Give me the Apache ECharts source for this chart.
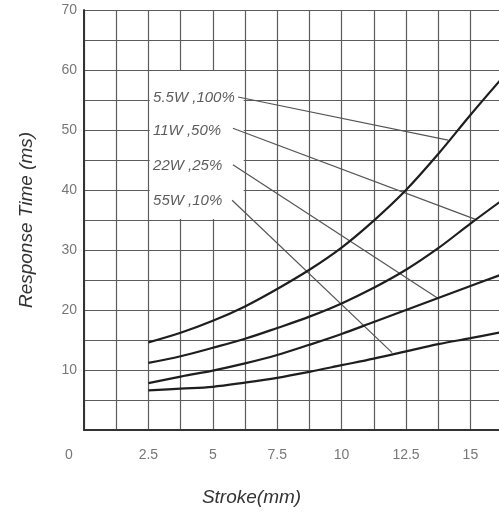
<!DOCTYPE html>
<html>
<head>
<meta charset="utf-8">
<script src="https://cdn.jsdelivr.net/npm/echarts@6/dist/echarts.min.js"></script>
<style>
html,body{margin:0;padding:0;background:#fff;}
#c{width:499px;height:515px;}
</style>
</head>
<body>
<div id="c"></div>
<script>
// Stroke (mm) sample positions
const strokes = [2.5, 3.75, 5, 6.25, 7.5, 8.75, 10, 11.25, 12.5, 13.75, 15, 16.2];
// Response time (ms) per duty setting
const w5_5 = [14.6, 16.2, 18.2, 20.6, 23.5, 26.7, 30.4, 34.9, 40.0, 46.0, 52.5, 58.5];
const w11  = [11.2, 12.3, 13.7, 15.2, 17.0, 18.9, 21.1, 23.7, 26.7, 30.3, 34.4, 38.2];
const w22  = [7.8, 8.9, 9.9, 11.1, 12.5, 14.2, 16.0, 18.0, 20.0, 22.0, 24.0, 25.9];
const w55  = [6.6, 6.9, 7.2, 7.9, 8.7, 9.7, 10.8, 11.9, 13.1, 14.3, 15.3, 16.3];
const curveNames = ['5.5W ,100%', '11W ,50%', '22W ,25%', '55W ,10%'];
// Label anchors (stroke, ms)
const labelX = [2.68, 2.68, 2.68, 2.68];
const labelY = [55.4, 49.9, 44.0, 38.2];
// Leader lines: start and end (stroke, ms)
const leaderStart = [[5.98, 55.5], [5.78, 50.3], [5.78, 44.2], [5.75, 38.3]];
const leaderEnd = [[14.13, 48.3], [15.2, 35.1], [13.75, 21.9], [11.96, 12.9]];
// Blank label panel extent
const panel = [[2.55, 35.15], [6.2, 59.85]];

const xTicks = [0, 2.5, 5, 7.5, 10, 12.5, 15];
const yTicks = [10, 20, 30, 40, 50, 60, 70];

const chart = echarts.init(document.getElementById('c'));
const gridLine = {color: '#5c5c5c', width: 1.2};
const curveData = [w5_5, w11, w22, w55];
const FONT = 'Liberation Sans, Arial, sans-serif';

const series = curveData.map((arr, i) => ({
  type: 'line', name: curveNames[i], smooth: 0.35, symbol: 'none',
  data: strokes.map((s, k) => [s, arr[k]]),
  lineStyle: {color: '#1e1e1e', width: 2.2}, z: 5
}));
series.push({
  type: 'line', data: [], symbol: 'none',
  markArea: {silent: true, itemStyle: {color: '#ffffff', borderWidth: 0},
    data: [[{coord: panel[0]}, {coord: panel[1]}]]}, z: 1
});
leaderStart.forEach((s, i) => {
  series.push({type: 'line', symbol: 'none', data: [s, leaderEnd[i]],
    lineStyle: {color: '#555', width: 1.2}, z: 4});
});
series.push({
  type: 'scatter', symbolSize: 0, z: 6,
  data: labelX.map((x, i) => [x, labelY[i], curveNames[i]]),
  label: {show: true, position: 'right', distance: 0,
    formatter: p => p.data[2],
    fontFamily: FONT, fontStyle: 'italic', fontSize: 15, color: '#333'}
});

chart.setOption({
  animation: false,
  backgroundColor: '#fff',
  grid: {left: 84, top: 10, bottom: 85, right: 0},
  xAxis: {
    type: 'value', min: 0, max: 16.11, interval: 1.25,
    name: 'Stroke(mm)', nameLocation: 'middle', nameGap: 58,
    nameTextStyle: {fontFamily: FONT, fontStyle: 'italic',
      fontSize: 19, color: '#333', padding: [0, 80, 0, 0]},
    axisLine: {lineStyle: {color: '#333', width: 2}},
    axisTick: {show: false},
    splitLine: {show: true, showMaxLine: false, lineStyle: gridLine},
    axisLabel: {margin: 18, fontSize: 14, color: '#777', fontFamily: FONT,
      showMaxLabel: false,
      formatter: v => xTicks.indexOf(v) < 0 ? '' : (v === 0 ? '{z|0}' : String(v)),
      rich: {z: {padding: [0, 30, 0, 0], fontSize: 14, color: '#777', fontFamily: FONT}}}
  },
  yAxis: {
    type: 'value', min: 0, max: 70, interval: 5,
    name: 'Response Time (ms)', nameLocation: 'middle', nameGap: 48,
    nameTextStyle: {fontFamily: FONT, fontStyle: 'italic', fontSize: 19, color: '#333'},
    axisLine: {show: true, lineStyle: {color: '#333', width: 2}},
    axisTick: {show: false},
    splitLine: {show: true, lineStyle: gridLine},
    axisLabel: {margin: 7, fontSize: 14, color: '#777', fontFamily: FONT,
      formatter: v => yTicks.indexOf(v) < 0 ? '' : String(v)}
  },
  series: series
});
</script>
</body>
</html>
